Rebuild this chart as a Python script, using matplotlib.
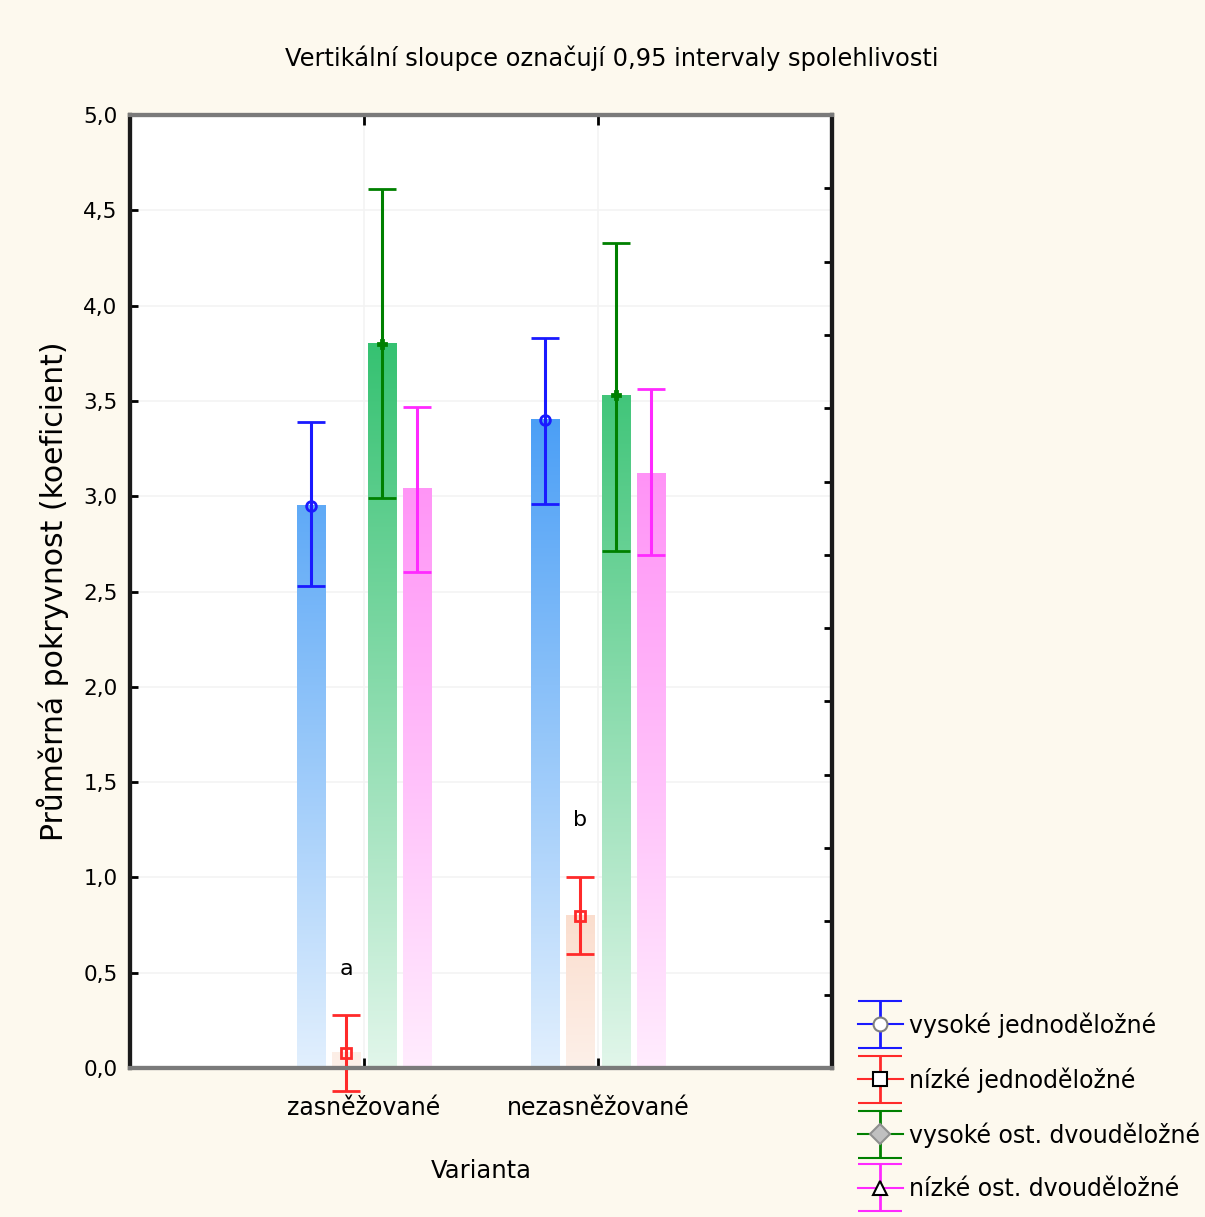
import numpy as np
import matplotlib
matplotlib.use("Agg")
import matplotlib.pyplot as plt
from matplotlib.colors import to_rgb
from matplotlib.container import ErrorbarContainer
from matplotlib.legend_handler import HandlerErrorbar

plt.rcParams['font.family'] = ['DejaVu Sans']

# ---- data ----
categories = ["zasněžované", "nezasněžované"]
series = ["vysoké jednoděložné", "nízké jednoděložné",
          "vysoké ost. dvouděložné", "nízké ost. dvouděložné"]
means = {
    "vysoké jednoděložné":     [2.95, 3.40],
    "nízké jednoděložné":      [0.08, 0.80],
    "vysoké ost. dvouděložné": [3.80, 3.53],
    "nízké ost. dvouděložné":  [3.04, 3.12],
}
ci_low = {
    "vysoké jednoděložné":     [2.53, 2.96],
    "nízké jednoděložné":      [-0.12, 0.60],
    "vysoké ost. dvouděložné": [2.99, 2.71],
    "nízké ost. dvouděložné":  [2.60, 2.69],
}
ci_high = {
    "vysoké jednoděložné":     [3.39, 3.83],
    "nízké jednoděložné":      [0.28, 1.00],
    "vysoké ost. dvouděložné": [4.61, 4.33],
    "nízké ost. dvouděložné":  [3.47, 3.56],
}
annotations = [("a", 0, 0.52), ("b", 1, 1.30)]
yticks = [0.0, 0.5, 1.0, 1.5, 2.0, 2.5, 3.0, 3.5, 4.0, 4.5, 5.0]

# ---- styles ----
line_colors = ["#1a1aff", "#ff2a2a", "#008000", "#ff2aff"]
bar_bases = ["#3a96f5", "#f29a6a", "#36c272", "#ff80f5"]
markers = ["o", "s", "P", "^"]
marker_sizes = [7, 7, 6, 0]
leg_markers = ["o", "s", "D", "^"]
leg_mfc = ["white", "white", "#c0c0c0", "white"]
leg_mec = ["#808080", "black", "#909090", "black"]
offsets = [-0.225, -0.075, 0.075, 0.225]
bar_w = 0.12
bg = "#fdf9ee"

fig = plt.figure(figsize=(12.05, 12.17), dpi=100, facecolor=bg)
ax = fig.add_axes([130/1205, 1-1068/1217, 702/1205, (1068-115)/1217])
ax.set_facecolor("white")

xpos = np.arange(1, len(categories) + 1)
ymax_grad = 3.8

for i, s in enumerate(series):
    base = np.array(to_rgb(bar_bases[i]))
    for j, x in enumerate(xpos):
        h = means[s][j]
        xc = x + offsets[i]
        ys = np.linspace(0, h, 100)
        alpha = np.clip(0.15 + 0.85 * ys / ymax_grad, 0, 1)
        img = (1 - alpha)[:, None] * np.ones(3)[None, :] + alpha[:, None] * base[None, :]
        img = img[:, None, :]
        ax.imshow(img, extent=(xc - bar_w/2, xc + bar_w/2, 0, h), origin="lower",
                  aspect="auto", zorder=2, interpolation="bilinear")
    xs = xpos + offsets[i]
    m = np.array(means[s])
    lo = m - np.array(ci_low[s])
    hi = np.array(ci_high[s]) - m
    ax.errorbar(xs, m, yerr=[lo, hi], fmt=markers[i], color=line_colors[i],
                ecolor=line_colors[i], elinewidth=2.2, capsize=10, capthick=2.5,
                markersize=marker_sizes[i], mfc="none", mew=2, zorder=4, clip_on=False)

for txt, j, y in annotations:
    ax.text(xpos[j] + offsets[1], y, txt, ha="center", va="center", fontsize=16, zorder=5)

ax.set_xlim(0, len(categories) + 1)
ax.set_ylim(0, 5)
ax.set_xticks(xpos)
ax.set_xticklabels(categories, fontsize=17)
ax.set_yticks(yticks)
ax.set_yticklabels([f"{v:.1f}".replace(".", ",") for v in yticks], fontsize=15.5)
ax.grid(True, color="#f3f3f3", linewidth=1.2, zorder=0)
ax.set_axisbelow(True)

ax.tick_params(axis="y", direction="in", length=6, width=2, pad=9, left=True, right=False)
ax.tick_params(axis="x", direction="in", length=7, width=2, pad=20, top=True, bottom=True)
# right minor ticks (13 divisions)
ax2 = ax.twinx()
ax2.set_ylim(0, 5)
ax2.set_yticks(np.linspace(0, 5, 14))
ax2.tick_params(axis="y", direction="in", length=6, width=2, labelright=False)
for a in (ax, ax2):
    for side in ("left", "right"):
        a.spines[side].set_color("#1a1a1a")
        a.spines[side].set_linewidth(3)
    for side in ("top", "bottom"):
        a.spines[side].set_color("#7a7a7a")
        a.spines[side].set_linewidth(3)

ax.set_ylabel("Průměrná pokryvnost (koeficient)", fontsize=21.5, labelpad=10)
ax.set_xlabel("Varianta", fontsize=17.5, labelpad=28)
fig.text(612/1205, 1-58/1217, "Vertikální sloupce označují 0,95 intervaly spolehlivosti",
         ha="center", va="center", fontsize=17.4)

# legend proxies
handles = []
for i, s in enumerate(series):
    h = ax.errorbar([np.nan], [np.nan], yerr=[[1], [1]], fmt="-" + leg_markers[i],
                    color=line_colors[i], ecolor=line_colors[i], elinewidth=2,
                    capsize=16, capthick=3, markersize=10, mfc=leg_mfc[i],
                    mec=leg_mec[i], mew=1.5, label=s)
    handles.append(h)
fig.legend(handles=handles, labels=series, loc="upper left",
           bbox_to_anchor=(858/1205, 1-1012/1217), frameon=False, fontsize=17,
           labelspacing=1.25, handlelength=1.9, handletextpad=0.25,
           borderaxespad=0, borderpad=0,
           handler_map={ErrorbarContainer: HandlerErrorbar(yerr_size=1.0)})

fig.savefig("out.png", dpi=100, facecolor=bg)
